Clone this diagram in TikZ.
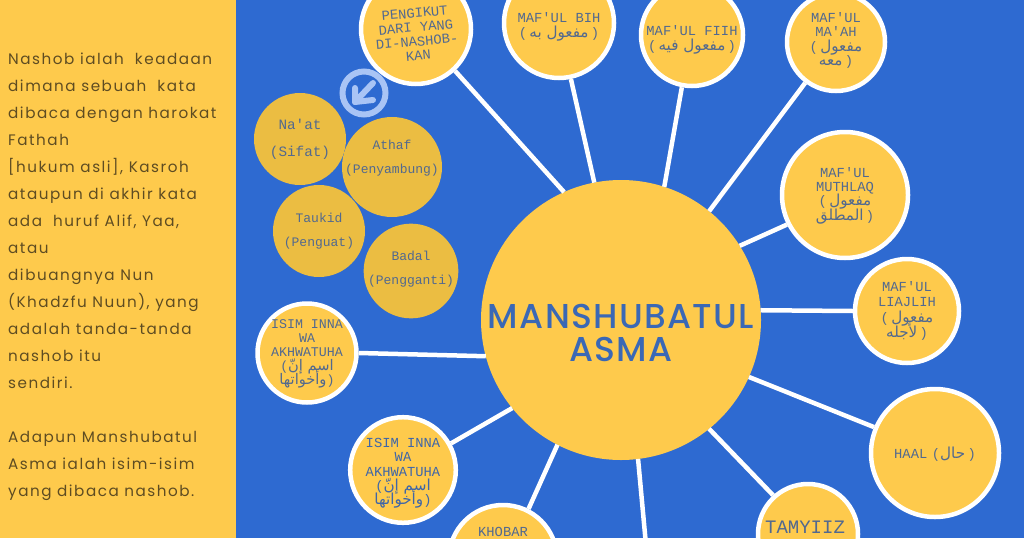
\documentclass[tikz,border=0pt]{standalone}
\usepackage{fontspec}
\setmainfont{Poppins}
\setmonofont{Liberation Mono}
\newfontfamily\arabicfont[Script=Arabic,Scale=1.1]{DejaVu Sans}
\newfontfamily\sidefont[LetterSpace=10]{Poppins}
\newfontfamily\hubfont[LetterSpace=4]{Poppins Medium}
\TeXXeTstate=1
\newcommand{\arb}[1]{\smash{\arabicfont\beginR #1\endR}}
\newcommand{\dropby}[1]{\rule{0pt}{#1pt}}
\newcommand{\liftby}[1]{\rule[-#1pt]{0pt}{1pt}}
\definecolor{bluebg}{HTML}{2E6AD1}
\definecolor{yellowbg}{HTML}{FECA4C}
\definecolor{ochre}{HTML}{EBBD42}
\definecolor{inkleaf}{HTML}{52698F}
\definecolor{inkdeep}{HTML}{3F66A8}
\definecolor{inkhub}{HTML}{3A68B5}
\definecolor{inkside}{HTML}{5E4C22}
\definecolor{iconblue}{HTML}{A9C4F5}
\tikzset{
  leaf/.style={circle,fill=yellowbg,draw=white,line width=4.5pt,inner sep=0pt,align=center,
    text=inkleaf,font=\ttfamily\fontsize{13.8}{14.3}\selectfont},
  extra/.style={circle,fill=ochre,inner sep=0pt,align=center,text=inkleaf,
    font=\ttfamily\fontsize{13}{24}\selectfont},
  hub/.style={circle,fill=yellowbg,inner sep=0pt,outer sep=0pt,minimum size=280pt,align=center,
    text=inkhub,font=\hubfont\fontsize{34.5}{33}\selectfont},
  spoke/.style={draw=white,line width=4.5pt}
}
\begin{document}
\begin{tikzpicture}[x=1pt,y=-1pt]
  \clip (0,0) rectangle (1024,538);
  \fill[bluebg] (0,0) rectangle (1024,538);
  \fill[yellowbg] (0,0) rectangle (236,538);
  \draw
    (8,52.5) node[anchor=north west,align=left,text=inkside,inner sep=0pt,
      font=\sidefont\fontsize{15.2}{27}\selectfont] (side)
      {Nashob ialah\ \ keadaan\\dimana sebuah\ \ kata\\dibaca dengan harokat\\Fathah\\
       {[hukum asli], Kasroh}\\ataupun di akhir kata\\ada\ \ huruf Alif, Yaa,\\atau\\
       dibuangnya Nun\\(Khadzfu Nuun), yang\\adalah tanda-tanda\\nashob itu\\sendiri.\\[27pt]
       Adapun Manshubatul\\Asma ialah isim-isim\\yang dibaca nashob.};
  \draw
    (621,320) node[hub] (manshub) {\dropby{51}MANSHUBATUL\\ASMA}
    (416,29) node[leaf,minimum size=110pt,rotate=5] (pengikut) {\dropby{20}PENGIKUT\\DARI YANG\\DI-NASHOB-\\KAN}
    (559,23) node[leaf,minimum size=110pt] (bih) {\dropby{17}MAF'UL BIH\\(\,\arb{مفعول به}\,)}
    (692,35) node[leaf,minimum size=102pt] (fiih) {\dropby{19}MAF'UL FIIH\\(\,\arb{مفعول فيه}\,)}
    (836,42) node[leaf,minimum size=98pt] (maah) {MAF'UL\\MA'AH\\(\,\arb{مفعول}\\\arb{معه}\,)\liftby{6}}
    (845,195) node[leaf,minimum size=126pt] (muthlaq) {MAF'UL\\MUTHLAQ\\(\,\arb{مفعول}\\\arb{المطلق}\,)}
    (907,311) node[leaf,minimum size=104pt,font=\ttfamily\fontsize{13.8}{15.4}\selectfont] (liajlih) {MAF'UL\\LIAJLIH\\(\,\arb{مفعول}\\\arb{لأجله}\,)}
    (935,453) node[leaf,minimum size=128pt] (haal) {\dropby{14}HAAL\,\,(\arb{حال}\,)}
    (808,534) node[leaf,minimum size=100pt,font=\ttfamily\fontsize{19}{20}\selectfont] (tamyiiz) {\smash{\raisebox{1pt}{TAMYIIZ\kern6pt}}}
    (503,559) node[leaf,minimum size=108pt] (khobar) {\smash{\raisebox{23pt}{KHOBAR}}}
    (403,470) node[leaf,minimum size=104pt,text=inkdeep] (isimb) {\dropby{15}ISIM INNA\\WA\\AKHWATUHA\\(\arb{اسم إنّ}\\\arb{وأخواتها})}
    (307,353) node[leaf,minimum size=99pt,font=\ttfamily\fontsize{13.3}{14}\selectfont] (isima) {ISIM INNA\\WA\\AKHWATUHA\\(\arb{اسم إنّ}\\\arb{وأخواتها})};
  \coordinate (offpage) at (646,545);
  \begin{scope}[spoke]
    \draw (manshub.114) to (pengikut.-52);
    \draw (manshub.101) to (bih.-78);
    \draw (manshub.72) to (fiih.-101);
    \draw (manshub.51) to (maah.233);
    \draw (manshub.32) to (muthlaq.207);
    \draw (manshub.4.5) to (liajlih.180);
    \draw (manshub.-24.5) to (haal.157);
    \draw (manshub.-51) to (tamyiiz.132);
    \draw (manshub.-83.4) to (offpage);
    \draw (manshub.-117) to (khobar.63);
    \draw (manshub.219) to (isimb.29);
    \draw (manshub.195.7) to (isima.0);
  \end{scope}
  \draw
    (300,139) node[extra,minimum size=92pt,font=\ttfamily\fontsize{14.3}{27}\selectfont] (naat) {Na'at\\(Sifat)}
    (392,167) node[extra,minimum size=100pt,inner sep=-15pt] (athaf) {Athaf\\(Penyambung)\liftby{20}}
    (319,231) node[extra,minimum size=92pt] (taukid) {Taukid\\(Penguat)}
    (411,271) node[extra,minimum size=94pt] (badal) {Badal\\(Pengganti)\liftby{7}};
  \node[circle,draw=iconblue,line width=6pt,minimum size=43pt,inner sep=0pt] (icon) at (364,93) {};
  \draw[iconblue,line width=6pt,line cap=round,line join=round]
    ([shift={(9,-10)}]icon.center) to ([shift={(-9,9)}]icon.center);
  \draw[iconblue,line width=6pt,line cap=round,line join=round]
    ([shift={(-9,-5)}]icon.center) -- ([shift={(-9,9)}]icon.center) -- ([shift={(9,7)}]icon.center);
\end{tikzpicture}
\end{document}
